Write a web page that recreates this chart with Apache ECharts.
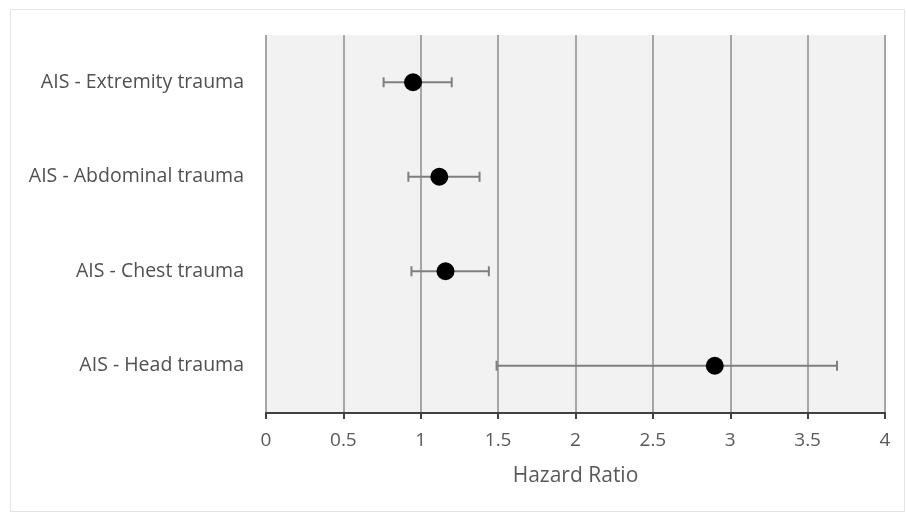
<!DOCTYPE html>
<html>
<head>
<meta charset="utf-8">
<script src="https://cdn.jsdelivr.net/npm/echarts@6/dist/echarts.min.js"></script>
<style>
  html, body { margin: 0; padding: 0; background: #fff; }
  #chart { width: 906px; height: 513px; }
</style>
</head>
<body>
<div id="chart"></div>
<script>
const categories = ['AIS - Extremity trauma', 'AIS - Abdominal trauma', 'AIS - Chest trauma', 'AIS - Head trauma']
const hazardRatio = [0.95, 1.12, 1.16, 2.90]
const lowerCI = [0.76, 0.92, 0.94, 1.49]
const upperCI = [1.20, 1.38, 1.44, 3.69]

const chart = echarts.init(document.getElementById('chart'))

const errorData = categories.map((c, i) => [lowerCI[i], upperCI[i], i])
const pointData = categories.map((c, i) => [hazardRatio[i], i])

const option = {
	animation: false,
	textStyle: { fontFamily: 'Open Sans' },
	graphic: [
		{
			type: 'rect',
			shape: { x: 10.5, y: 9.5, width: 894, height: 502 },
			style: { fill: 'none', stroke: '#e3e3e3', lineWidth: 1 },
			z: -10,
		},
	],
	grid: {
		left: 266,
		right: 21,
		top: 35,
		bottom: 100,
		show: true,
		backgroundColor: '#f2f2f2',
		borderWidth: 0,
	},
	xAxis: {
		type: 'value',
		min: 0,
		max: 4,
		interval: 0.5,
		name: 'Hazard Ratio',
		nameLocation: 'middle',
		nameGap: 53,
		nameTextStyle: { fontSize: 21, color: '#595959' },
		axisLine: { show: true, onZero: false, lineStyle: { color: '#404040', width: 2 } },
		axisTick: { show: true, length: 6, lineStyle: { color: '#404040', width: 2 } },
		axisLabel: { fontSize: 19, color: '#595959', margin: 18 },
		splitLine: { show: true, lineStyle: { color: '#a6a6a6', width: 2 } },
	},
	yAxis: {
		type: 'category',
		data: categories,
		inverse: true,
		axisLine: { show: false },
		axisTick: { show: false },
		axisLabel: { fontSize: 19.5, color: '#505050', margin: 22 },
		splitLine: { show: false },
	},
	series: [
		{
			type: 'custom',
			data: errorData,
			encode: { x: [0, 1], y: 2 },
			renderItem: function (params, api) {
				const lo = api.coord([api.value(0), api.value(2)])
				const hi = api.coord([api.value(1), api.value(2)])
				const cap = 5
				const style = { stroke: '#7f7f7f', lineWidth: 2 }
				return {
					type: 'group',
					children: [
						{ type: 'line', shape: { x1: lo[0], y1: lo[1], x2: hi[0], y2: hi[1] }, style: style },
						{ type: 'line', shape: { x1: lo[0], y1: lo[1] - cap, x2: lo[0], y2: lo[1] + cap }, style: style },
						{ type: 'line', shape: { x1: hi[0], y1: hi[1] - cap, x2: hi[0], y2: hi[1] + cap }, style: style },
					],
				}
			},
			z: 2,
		},
		{
			type: 'scatter',
			data: pointData,
			symbol: 'circle',
			symbolSize: 18,
			itemStyle: { color: '#000000', opacity: 1 },
			z: 3,
		},
	],
}
chart.setOption(option)
</script>
</body>
</html>
